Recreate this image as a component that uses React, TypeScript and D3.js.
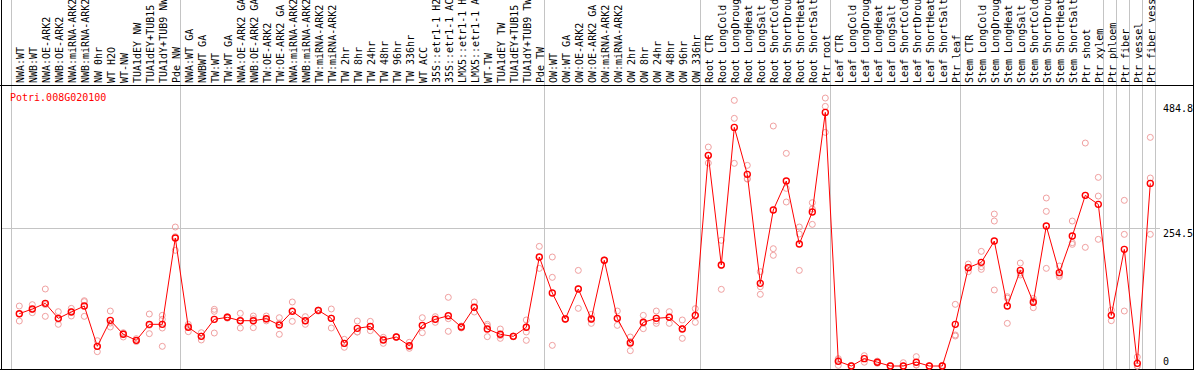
import React, { useEffect, useRef } from "react";
import * as d3 from "d3";

const geneName = "Potri.008G020100";

const conditions = [
  "NWA:WT", "NWB:WT", "NWA:OE-ARK2", "NWB:OE-ARK2", "NWA:miRNA-ARK2", "NWB:miRNA-ARK2",
  "NW 0hr", "WT H2O", "WT-NW", "TUA1dEY NW", "TUA1dEY+TUB15", "TUA1dY+TUB9 NW", "Pde NW",
  "NWA:WT GA", "NWBWT GA", "TW:WT", "TW:WT GA", "NWA:OE-ARK2 GA", "NWB:OE-ARK2 GA",
  "TW:OE-ARK2", "TW:OE-ARK2 GA", "NWA:miRNA-ARK2", "NWB:miRNA-ARK2", "TW:miRNA-ARK2",
  "TW:miRNA-ARK2", "TW 2hr", "TW 8hr", "TW 24hr", "TW 48hr", "TW 96hr", "TW 336hr",
  "WT ACC", "35S::etr1-1 H2O", "35S::etr1-1 ACC", "LMX5::etr1-1 H2O", "LMX5::etr1-1 ACC",
  "WT-TW", "TUA1dEY TW", "TUA1dEY+TUB15", "TUA1dY+TUB9 TW", "Pde TW",
  "OW:WT", "OW:WT GA", "OW:OE-ARK2", "OW:OE-ARK2 GA", "OW:miRNA-ARK2", "OW:miRNA-ARK2",
  "OW 2hr", "OW 8hr", "OW 24hr", "OW 48hr", "OW 96hr", "OW 336hr",
  "Root CTR", "Root LongCold", "Root LongDrought", "Root LongHeat", "Root LongSalt",
  "Root ShortCold", "Root ShortDrought", "Root ShortHeat", "Root ShortSalt", "Ptr root",
  "Leaf CTR", "Leaf LongCold", "Leaf LongDrought", "Leaf LongHeat", "Leaf LongSalt",
  "Leaf ShortCold", "Leaf ShortDrought", "Leaf ShortHeat", "Leaf ShortSalt", "Ptr leaf",
  "Stem CTR", "Stem LongCold", "Stem LongDrought", "Stem LongHeat", "Stem LongSalt",
  "Stem ShortCold", "Stem ShortDrought", "Stem ShortHeat", "Stem ShortSalt", "Ptr shoot",
  "Ptr xylem", "Ptr phloem", "Ptr fiber", "Ptr vessel", "Ptr fiber vessel",
];

const meanValues = [
  96.3, 104.9, 115.3, 87.7, 99.4, 110.4, 36.2, 84, 58.3, 47.2, 76.7, 76.7, 235.6,
  71.2, 54.6, 85.9, 89.6, 83.4, 83.4, 87.1, 75.5, 100.6, 83.4, 102.4, 87.7, 41.7,
  69.3, 73, 47.9, 53.4, 37.4, 74.8, 85.9, 92.6, 71.8, 108, 68.1, 58.3, 54.6, 71.2, 200.6,
  134.3, 86.5, 141.7, 86.5, 194.5, 87.7, 42.3, 80.4, 87.7, 89.6, 68.1, 93.2,
  387.7, 185.9, 439.2, 352.7, 152.1, 287.1, 340.4, 224.5, 283.4, 466.8,
  8.6, 0, 13.5, 7, 0, 0, 7, 0, 0, 76.7,
  181, 190.8, 230, 110.4, 176, 117.2, 257.6, 171.8, 239.2, 314.1, 297.5,
  93.2, 214.7, 4.9, 336.1,
];

const replicateValues = [
  [110.4, 96, 82.8], [112.9, 104, 98.1], [141.7, 113, 91.4], [100, 86, 76.7],
  [106.1, 100, 92], [120.2, 118.4, 91.4], [46.6, 36, 26.4], [101.2, 79, 71.8],
  [61.3, 60, 53.4], [50.3, 46.6, 45], [95.7, 75, 59.5], [93.2, 85.9, 69.9, 36.2],
  [255.8, 238, 212.9],
  [76.7, 73, 63.2], [61.3, 55, 47.9], [104.3, 100.6, 60.7], [90.8, 89, 88],
  [96.9, 84, 69.9], [92, 87, 70.6], [92, 86, 83], [88.9, 79, 58.3],
  [117.8, 102, 82.2], [90.8, 83, 76.7], [103, 102, 101], [104.9, 88, 69.9],
  [49.1, 41.5, 34.4], [82.8, 62.6, 62.6], [82.2, 72, 65], [52.8, 49, 41.7],
  [54, 53, 53], [43.6, 36, 32.5], [88.9, 74, 61.3], [90.8, 86.5, 80.4],
  [126.4, 87.1, 63.8], [73.6, 72, 70], [117.8, 107, 99.4], [76.7, 73.5, 54],
  [68.1, 56, 50.9], [55.2, 55, 53.6], [84.7, 72, 62.6, 47.2], [220.2, 200, 179.7],
  [200.6, 163.2, 38], [87, 86.5, 86], [176, 142, 106.1], [95.1, 86, 78.5],
  [195, 194.5, 194], [101.2, 87, 74.8], [53.4, 45, 28.2], [93.2, 79, 68.7],
  [101.2, 83, 78.5], [100, 90, 78.5], [84.7, 69, 50.9], [105.5, 93, 80.4],
  [403, 387, 373.6], [231.3, 185, 141.1], [488.9, 455.8, 373], [369.3, 344.7, 344],
  [173.6, 146, 131.9], [441.7, 215.9, 203.7], [391.4, 326.9, 301.8],
  [255.8, 242.9, 176], [300.6, 289, 260.7], [493.2, 477.8, 430],
  [13.5, 11, 1.2], [1, 0, 0], [19, 14, 7], [9, 7, 5], [1, 0, 0], [6.1, 0, 0],
  [17.2, 2, 1.8], [0, 0, 0], [1.2, 0, 0], [113.5, 57.1, 55.2],
  [187.7, 181, 173.6], [211, 182.8, 177.9], [279.7, 266.8, 139.9], [127.6, 125, 78.5],
  [189.5, 171, 167.5], [124.5, 120, 107.3], [309.2, 284.6, 179.7], [184, 167, 164.4],
  [266.8, 227, 223.9], [410.4, 314, 218.4], [347.2, 312.8, 233.1],
  [103, 93, 83.4], [304.9, 242.3, 101.2], [16.6, 0, 0], [420.8, 346, 242.3],
];

// index of the first condition in every sample group (last = end)
const groupBreaks = [0, 13, 41, 53, 63, 73, 84, 85, 86, 87, 88];
const yTicks = [484.8, 254.5, 0];
const gridValue = 254.5;

const App = () => {
  const ref = useRef<SVGSVGElement>(null);

  useEffect(() => {
    const width = 1194;
    const height = 370;
    const headerBottom = 85;
    const font = "'DejaVu Sans Mono', monospace";
    const red = "#ff0000";
    const pale = "#f0a0a0";
    const gray = "#c4c4c4";

    const svg = d3.select(ref.current);
    svg.selectAll("*").remove();
    svg.attr("width", width).attr("height", height);

    const x = d3.scaleLinear().domain([0, conditions.length - 1]).range([19.3, 1150.3]);
    const y = d3.scaleLinear().domain([0, 484.8]).range([366, 102.6]);
    const sep = (i: number) => Math.round(x(i) - 8.5) + 0.5;

    svg.append("rect").attr("width", width).attr("height", height).attr("fill", "#fff");

    // group separators
    svg
      .append("g")
      .selectAll("line")
      .data(groupBreaks)
      .join("line")
      .attr("x1", (d) => sep(d))
      .attr("x2", (d) => sep(d))
      .attr("y1", 0)
      .attr("y2", height)
      .attr("stroke", gray);

    svg
      .append("line")
      .attr("x1", 1)
      .attr("x2", 1160)
      .attr("y1", Math.round(y(gridValue)) + 0.5)
      .attr("y2", Math.round(y(gridValue)) + 0.5)
      .attr("stroke", gray);

    // frame
    const frame = svg.append("g").attr("stroke", "#000").attr("stroke-width", 1);
    frame.append("line").attr("x1", 1.5).attr("x2", 1.5).attr("y1", 0).attr("y2", height);
    frame.append("line").attr("x1", 1193.5).attr("x2", 1193.5).attr("y1", 0).attr("y2", height);
    frame.append("line").attr("x1", 0).attr("x2", width).attr("y1", headerBottom + 0.5).attr("y2", headerBottom + 0.5);
    frame.append("line").attr("x1", 0).attr("x2", width).attr("y1", 369.5).attr("y2", 369.5);

    // rotated condition labels
    svg
      .append("g")
      .selectAll("text")
      .data(conditions)
      .join("text")
      .attr("transform", (d, i) => `translate(${x(i) + 4.5},83) rotate(-90)`)
      .attr("font-family", font)
      .attr("font-size", 10)
      .attr("fill", "#000")
      .text((d) => d);

    // replicates
    const reps = replicateValues.flatMap((r, i) => r.map((v) => ({ i, v })));
    svg
      .append("g")
      .selectAll("circle")
      .data(reps)
      .join("circle")
      .attr("cx", (d) => x(d.i))
      .attr("cy", (d) => y(d.v))
      .attr("r", 3)
      .attr("fill", "none")
      .attr("stroke", pale)
      .attr("stroke-width", 1);

    const line = d3
      .line<number>()
      .x((d, i) => x(i))
      .y((d) => y(d));

    svg
      .append("path")
      .datum(meanValues)
      .attr("d", line)
      .attr("fill", "none")
      .attr("stroke", red)
      .attr("stroke-width", 1);

    svg
      .append("g")
      .selectAll("circle")
      .data(meanValues)
      .join("circle")
      .attr("cx", (d, i) => x(i))
      .attr("cy", (d) => y(d))
      .attr("r", 3)
      .attr("fill", "none")
      .attr("stroke", red)
      .attr("stroke-width", 1.4);

    svg
      .append("text")
      .attr("x", 10)
      .attr("y", 101)
      .attr("font-family", font)
      .attr("font-size", 10)
      .attr("fill", red)
      .text(geneName);

    svg
      .append("g")
      .selectAll("text")
      .data(yTicks)
      .join("text")
      .attr("x", 1163)
      .attr("y", (d) => (d === 0 ? y(d) - 1 : y(d) + 9))
      .attr("font-family", font)
      .attr("font-size", 10)
      .attr("fill", "#000")
      .text((d) => d);
  }, []);

  return <svg ref={ref} style={{ position: "absolute", left: 0, top: 0 }} />;
};

export default App;
